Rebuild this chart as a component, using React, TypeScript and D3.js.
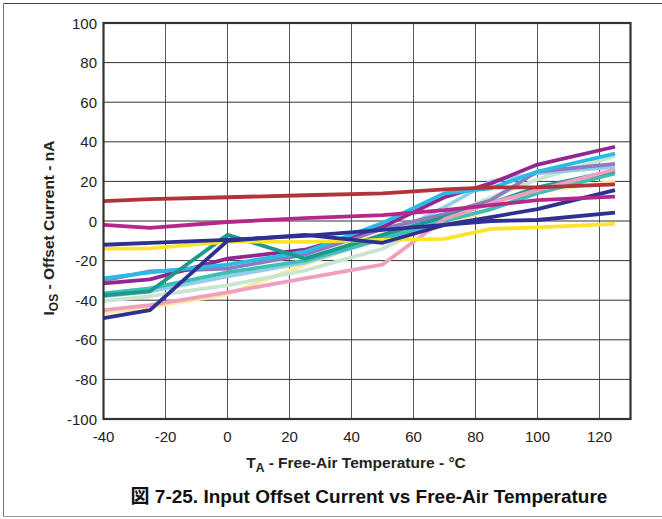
import * as d3 from "d3";

const temps = [-40, -25, 0, 25, 50, 70, 85, 100, 125];

const xTicks = [-40, -20, 0, 20, 40, 60, 80, 100, 120];
const yTicks = [-100, -80, -60, -40, -20, 0, 20, 40, 60, 80, 100];

// offset current per unit, nA
const lightYellow = [-46.3, -43.5, -37, -22, -8, -2, 6, 14.8, 20];
const mint = [-40.5, -38, -32.5, -25, -14, 2, 12, 21, 32.8];
const lightBlue = [-38, -35.5, -28, -21, -9, 7, 20, 24, 27.4];
const turquoise = [-36.5, -34, -26, -20, -9, 0, 6, 14, 24];
const lavender = [-30, -25.5, -24, -17, -4, 3.5, 10.5, 25, 28.8];
const purple = [-31.5, -29.5, -19, -14.5, -3, 12, 19, 28.5, 37.5];
const cyan = [-29, -26, -22, -15.5, -1, 14, 16.5, 25, 34];
const teal = [-37.5, -35.5, -7, -19, -7, 2, 9, 17, 25.4];
const pink = [-45, -42.5, -36, -29, -22, 1, 9, 15.6, 26];
const yellow = [-14, -13.8, -10.4, -10.5, -9.5, -9, -4, -3.2, -1.5];
const navyA = [-12, -11, -9.5, -7.5, -4.5, -2, 0, 0.5, 4.2];
const navyB = [-49, -45, -10, -7, -11, -2, 2, 6, 15.6];
const magenta = [-2, -3.5, -0.5, 1.5, 3, 5.5, 8, 10.5, 12.3];
const darkRed = [10, 11, 12, 13, 14, 16, 17, 17, 18.5];

const series = [
  { vals: lightYellow, color: "#fbeb9b" },
  { vals: mint, color: "#c9e4cf" },
  { vals: lightBlue, color: "#94cdea" },
  { vals: turquoise, color: "#3ebfb6" },
  { vals: lavender, color: "#8d7cbf" },
  { vals: purple, color: "#93278f" },
  { vals: cyan, color: "#29bbe6" },
  { vals: teal, color: "#1c9a8c" },
  { vals: pink, color: "#f19fc1" },
  { vals: yellow, color: "#fbe52a" },
  { vals: navyA, color: "#2e3192" },
  { vals: navyB, color: "#2e3192" },
  { vals: magenta, color: "#b5278a" },
  { vals: darkRed, color: "#b2333a" },
];

const W = 662;
const H = 519;
const font = "'Liberation Sans', Arial, sans-serif";

export default function App() {
  const x = d3.scaleLinear().domain([-40, 130]).range([103.5, 630.5]);
  const y = d3.scaleLinear().domain([-100, 100]).range([419, 23]);
  const line = d3
    .line<number>()
    .x((_, i) => x(temps[i]))
    .y((d) => y(d));

  return (
    <svg width={W} height={H} style={{ position: "absolute", left: 0, top: 0 }}>
      <rect width={W} height={H} fill="#fff" />
      {/* outer frame */}
      <line x1={3.5} x2={W} y1={3.5} y2={3.5} stroke="#444" />
      <line x1={3.5} x2={3.5} y1={3.5} y2={516.5} stroke="#777" />
      <line x1={3.5} x2={W} y1={516.5} y2={516.5} stroke="#999" />

      {/* grid */}
      {xTicks.map((t) => (
        <line key={"gx" + t} x1={x(t)} x2={x(t)} y1={y(100)} y2={y(-100)} stroke="#555" strokeWidth={1} />
      ))}
      {yTicks.map((t) => (
        <line key={"gy" + t} x1={x(-40)} x2={x(130)} y1={y(t)} y2={y(t)} stroke="#333" strokeWidth={1} />
      ))}

      {series.map((s, i) => (
        <path key={i} d={line(s.vals) ?? ""} fill="none" stroke={s.color} strokeWidth={3.8} strokeLinejoin="round" />
      ))}

      <rect x={x(-40)} y={y(100)} width={x(130) - x(-40)} height={y(-100) - y(100)} fill="none" stroke="#333" strokeWidth={2.2} />

      {yTicks.map((t) => (
        <text key={"ty" + t} x={97} y={y(t) + 5.5} textAnchor="end" fontFamily={font} fontSize={15} fill="#222">
          {t}
        </text>
      ))}
      {xTicks.map((t) => (
        <text key={"tx" + t} x={x(t)} y={442} textAnchor="middle" fontFamily={font} fontSize={15} fill="#222">
          {t}
        </text>
      ))}

      <text x={356} y={468} textAnchor="middle" fontFamily={font} fontSize={15.5} fontWeight="bold" fill="#222">
        T<tspan dy={4} fontSize={12}>A</tspan>
        <tspan dy={-4}> - Free-Air Temperature - °C</tspan>
      </text>

      <text transform="translate(54,228) rotate(-90)" textAnchor="middle" fontFamily={font} fontSize={15.5} fontWeight="bold" fill="#222">
        I<tspan dy={4} fontSize={12}>OS</tspan>
        <tspan dy={-4}> - Offset Current - nA</tspan>
      </text>

      <text x={369} y={503} textAnchor="middle" fontFamily={font} fontSize={19} fontWeight="bold" fill="#111">
        <tspan fontFamily="'Noto Sans CJK JP', sans-serif">図</tspan> 7-25. Input Offset Current vs Free-Air Temperature
      </text>
    </svg>
  );
}
